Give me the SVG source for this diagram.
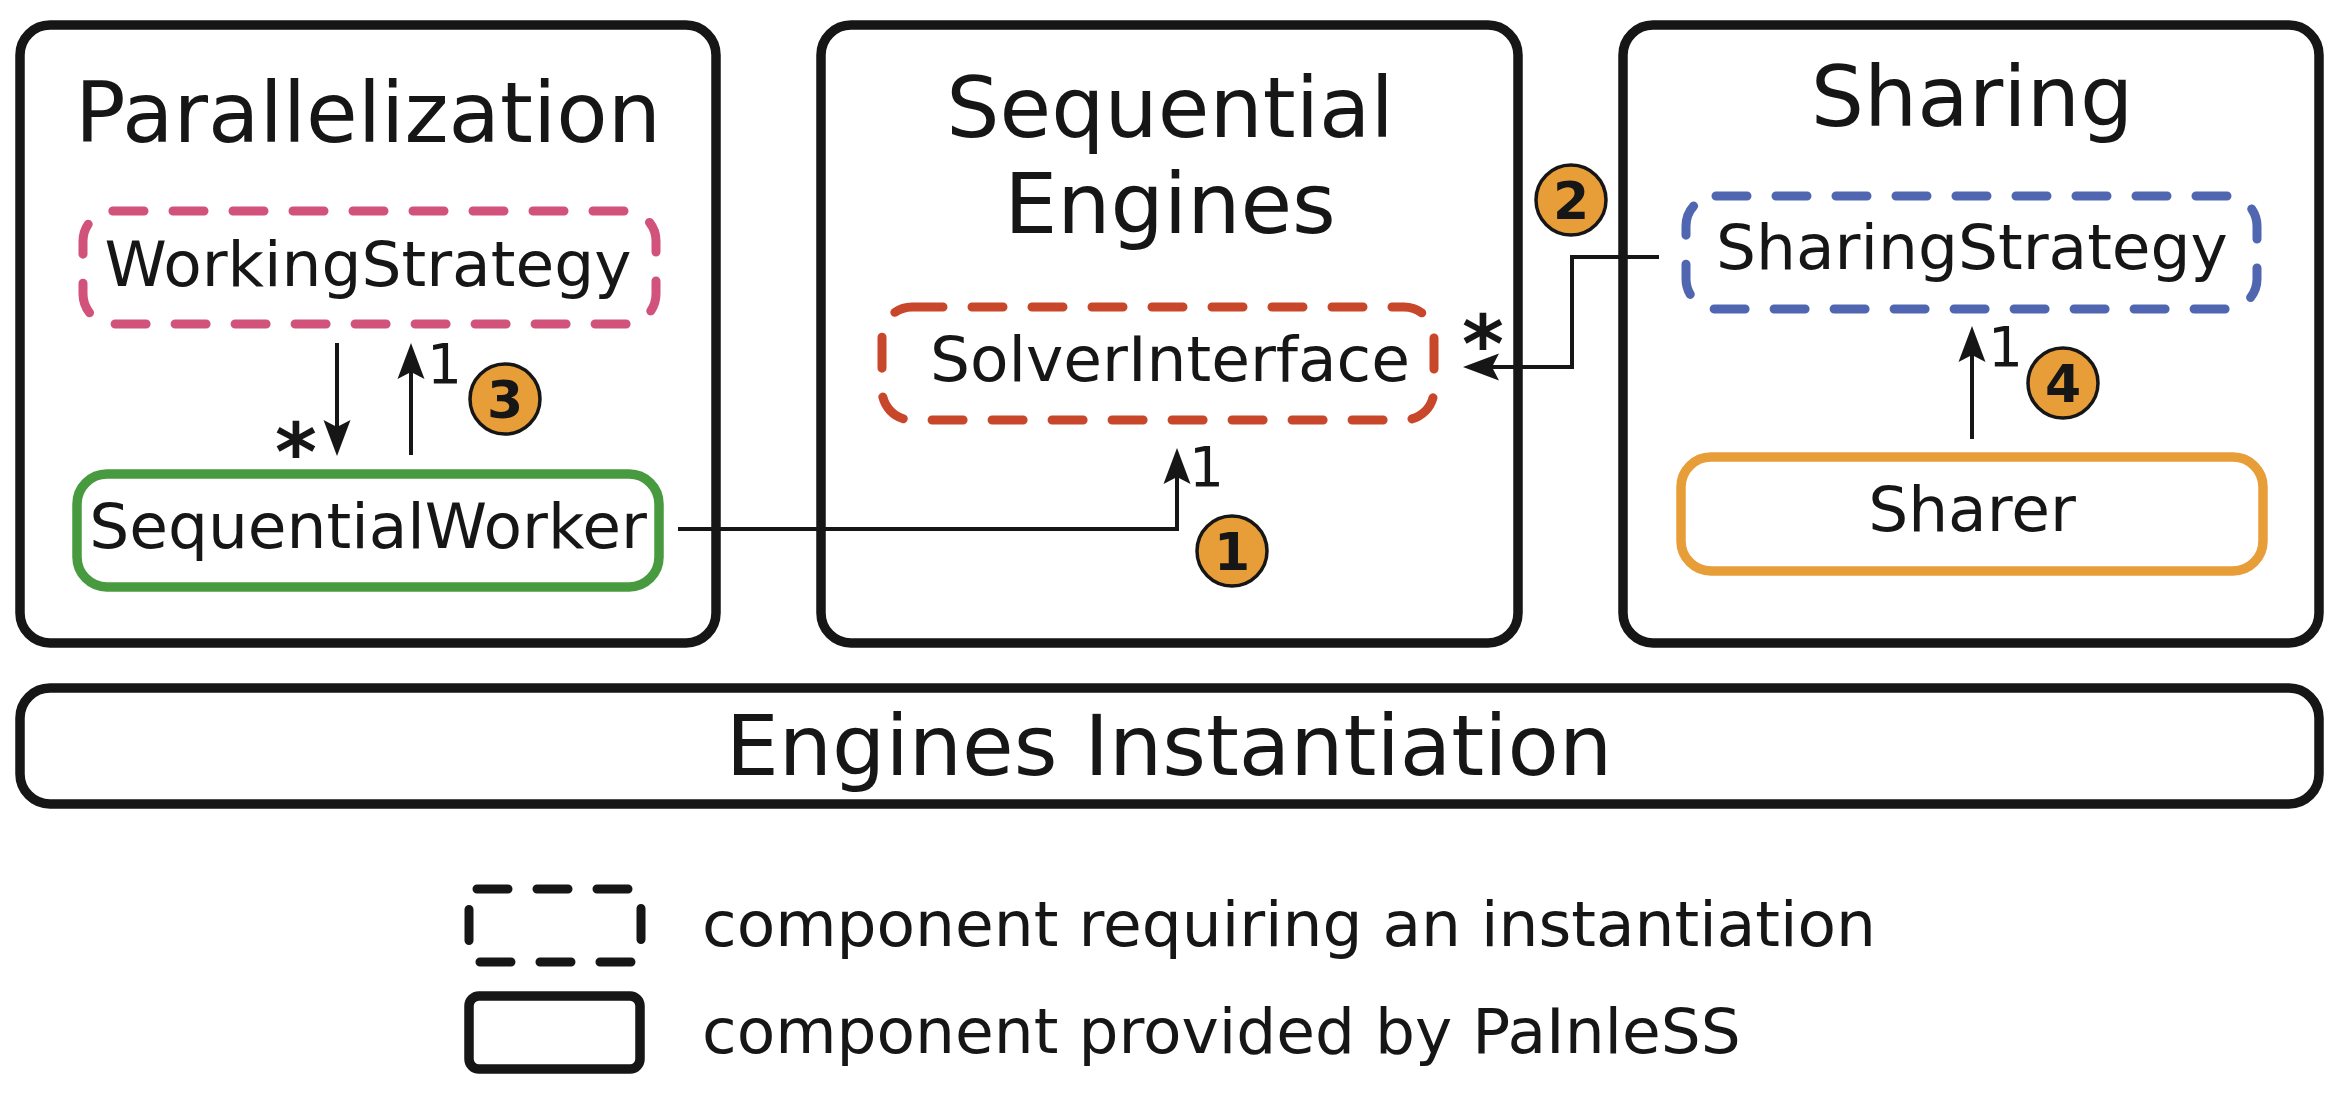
<svg xmlns="http://www.w3.org/2000/svg" width="2343" height="1097" viewBox="0 0 2343 1097">
  <style>
    text { font-family: "DejaVu Sans", "Noto Sans", sans-serif; fill: #161616; }
    .title { font-size: 84px; text-anchor: middle; }
    .comp { font-size: 63px; text-anchor: middle; }
    .legend { font-size: 63px; }
    .mult { font-size: 55px; }
    .star { font-size: 80px; font-weight: bold; text-anchor: middle; }
    .badge circle { fill: #E89E38; stroke: #161616; stroke-width: 3.5; }
    .badge text { font-size: 52px; font-weight: bold; text-anchor: middle; }
    .pkg { fill: #fff; stroke: #161616; stroke-width: 9.5; }
    .req { fill: none; stroke-width: 9; stroke-dasharray: 31 29; stroke-linecap: round; }
    .prov { fill: none; stroke-width: 9.5; }
    .conn { fill: none; stroke: #161616; stroke-width: 4; marker-end: url(#arrow); }
  </style>
  <defs>
    <marker id="arrow" viewBox="-40 -15 50 30" refX="-8" refY="0" markerWidth="50" markerHeight="30" markerUnits="userSpaceOnUse" orient="auto">
      <path d="M0,0 L-36,-13.5 L-29,0 L-36,13.5 Z" fill="#161616"/>
    </marker>
  </defs>
  <rect width="2343" height="1097" fill="#fff"/>

  <g id="parallelization">
    <rect class="pkg" x="20" y="25" width="696" height="618" rx="30"/>
    <text class="title" x="368" y="142">Parallelization</text>
  </g>
  <g id="sequential-engines">
    <rect class="pkg" x="821" y="25" width="697" height="618" rx="30"/>
    <text class="title" x="1170" y="137">Sequential</text>
    <text class="title" x="1170" y="233">Engines</text>
  </g>
  <g id="sharing">
    <rect class="pkg" x="1623" y="25" width="696" height="618" rx="30"/>
    <text class="title" x="1972" y="126">Sharing</text>
  </g>
  <g id="engines-instantiation">
    <rect class="pkg" x="20" y="688" width="2299" height="116" rx="30"/>
    <text class="title" x="1169" y="775">Engines Instantiation</text>
  </g>

  <g id="working-strategy">
    <rect class="req" stroke="#D1527B" x="83" y="211" width="573" height="113" rx="30"/>
    <text class="comp" x="368" y="286">WorkingStrategy</text>
  </g>
  <g id="sequential-worker">
    <rect class="prov" stroke="#489A3F" x="77" y="474" width="582" height="113" rx="30"/>
    <text class="comp" x="368" y="548">SequentialWorker</text>
  </g>
  <g id="solver-interface">
    <rect class="req" stroke="#C8462A" x="882" y="307" width="552" height="113" rx="30"/>
    <text class="comp" x="1170" y="381">SolverInterface</text>
  </g>
  <g id="sharing-strategy">
    <rect class="req" stroke="#5066B1" x="1686" y="196" width="571" height="113" rx="30"/>
    <text class="comp" x="1972" y="269">SharingStrategy</text>
  </g>
  <g id="sharer">
    <rect class="prov" stroke="#E89E38" x="1681" y="457" width="582" height="114" rx="30"/>
    <text class="comp" x="1972" y="531">Sharer</text>
  </g>

  <g id="connectors">
    <path class="conn" d="M678 529 H1177 V456"/>
    <path class="conn" d="M1659 257 H1572 V367 H1471"/>
    <path class="conn" d="M337 343 V448"/>
    <path class="conn" d="M411 455 V351"/>
    <path class="conn" d="M1972 439 V334"/>
    <text class="mult" x="1189" y="486">1</text>
    <text class="star" x="1483" y="372">*</text>
    <text class="star" x="296" y="480">*</text>
    <text class="mult" x="427" y="383">1</text>
    <text class="mult" x="1988" y="366">1</text>
  </g>

  <g id="badge-1" class="badge"><circle cx="1232" cy="551" r="35"/><text x="1232" y="570">1</text></g>
  <g id="badge-2" class="badge"><circle cx="1571" cy="200" r="35"/><text x="1571" y="219">2</text></g>
  <g id="badge-3" class="badge"><circle cx="505" cy="399" r="35"/><text x="505" y="418">3</text></g>
  <g id="badge-4" class="badge"><circle cx="2063" cy="383" r="35"/><text x="2063" y="402">4</text></g>

  <g id="legend">
    <rect class="req" stroke="#161616" x="469" y="889" width="172" height="73" rx="8"/>
    <text class="legend" x="702" y="946">component requiring an instantiation</text>
    <rect class="prov" stroke="#161616" x="469" y="996" width="171" height="73" rx="10"/>
    <text class="legend" x="702" y="1053">component provided by PaInleSS</text>
  </g>
</svg>
